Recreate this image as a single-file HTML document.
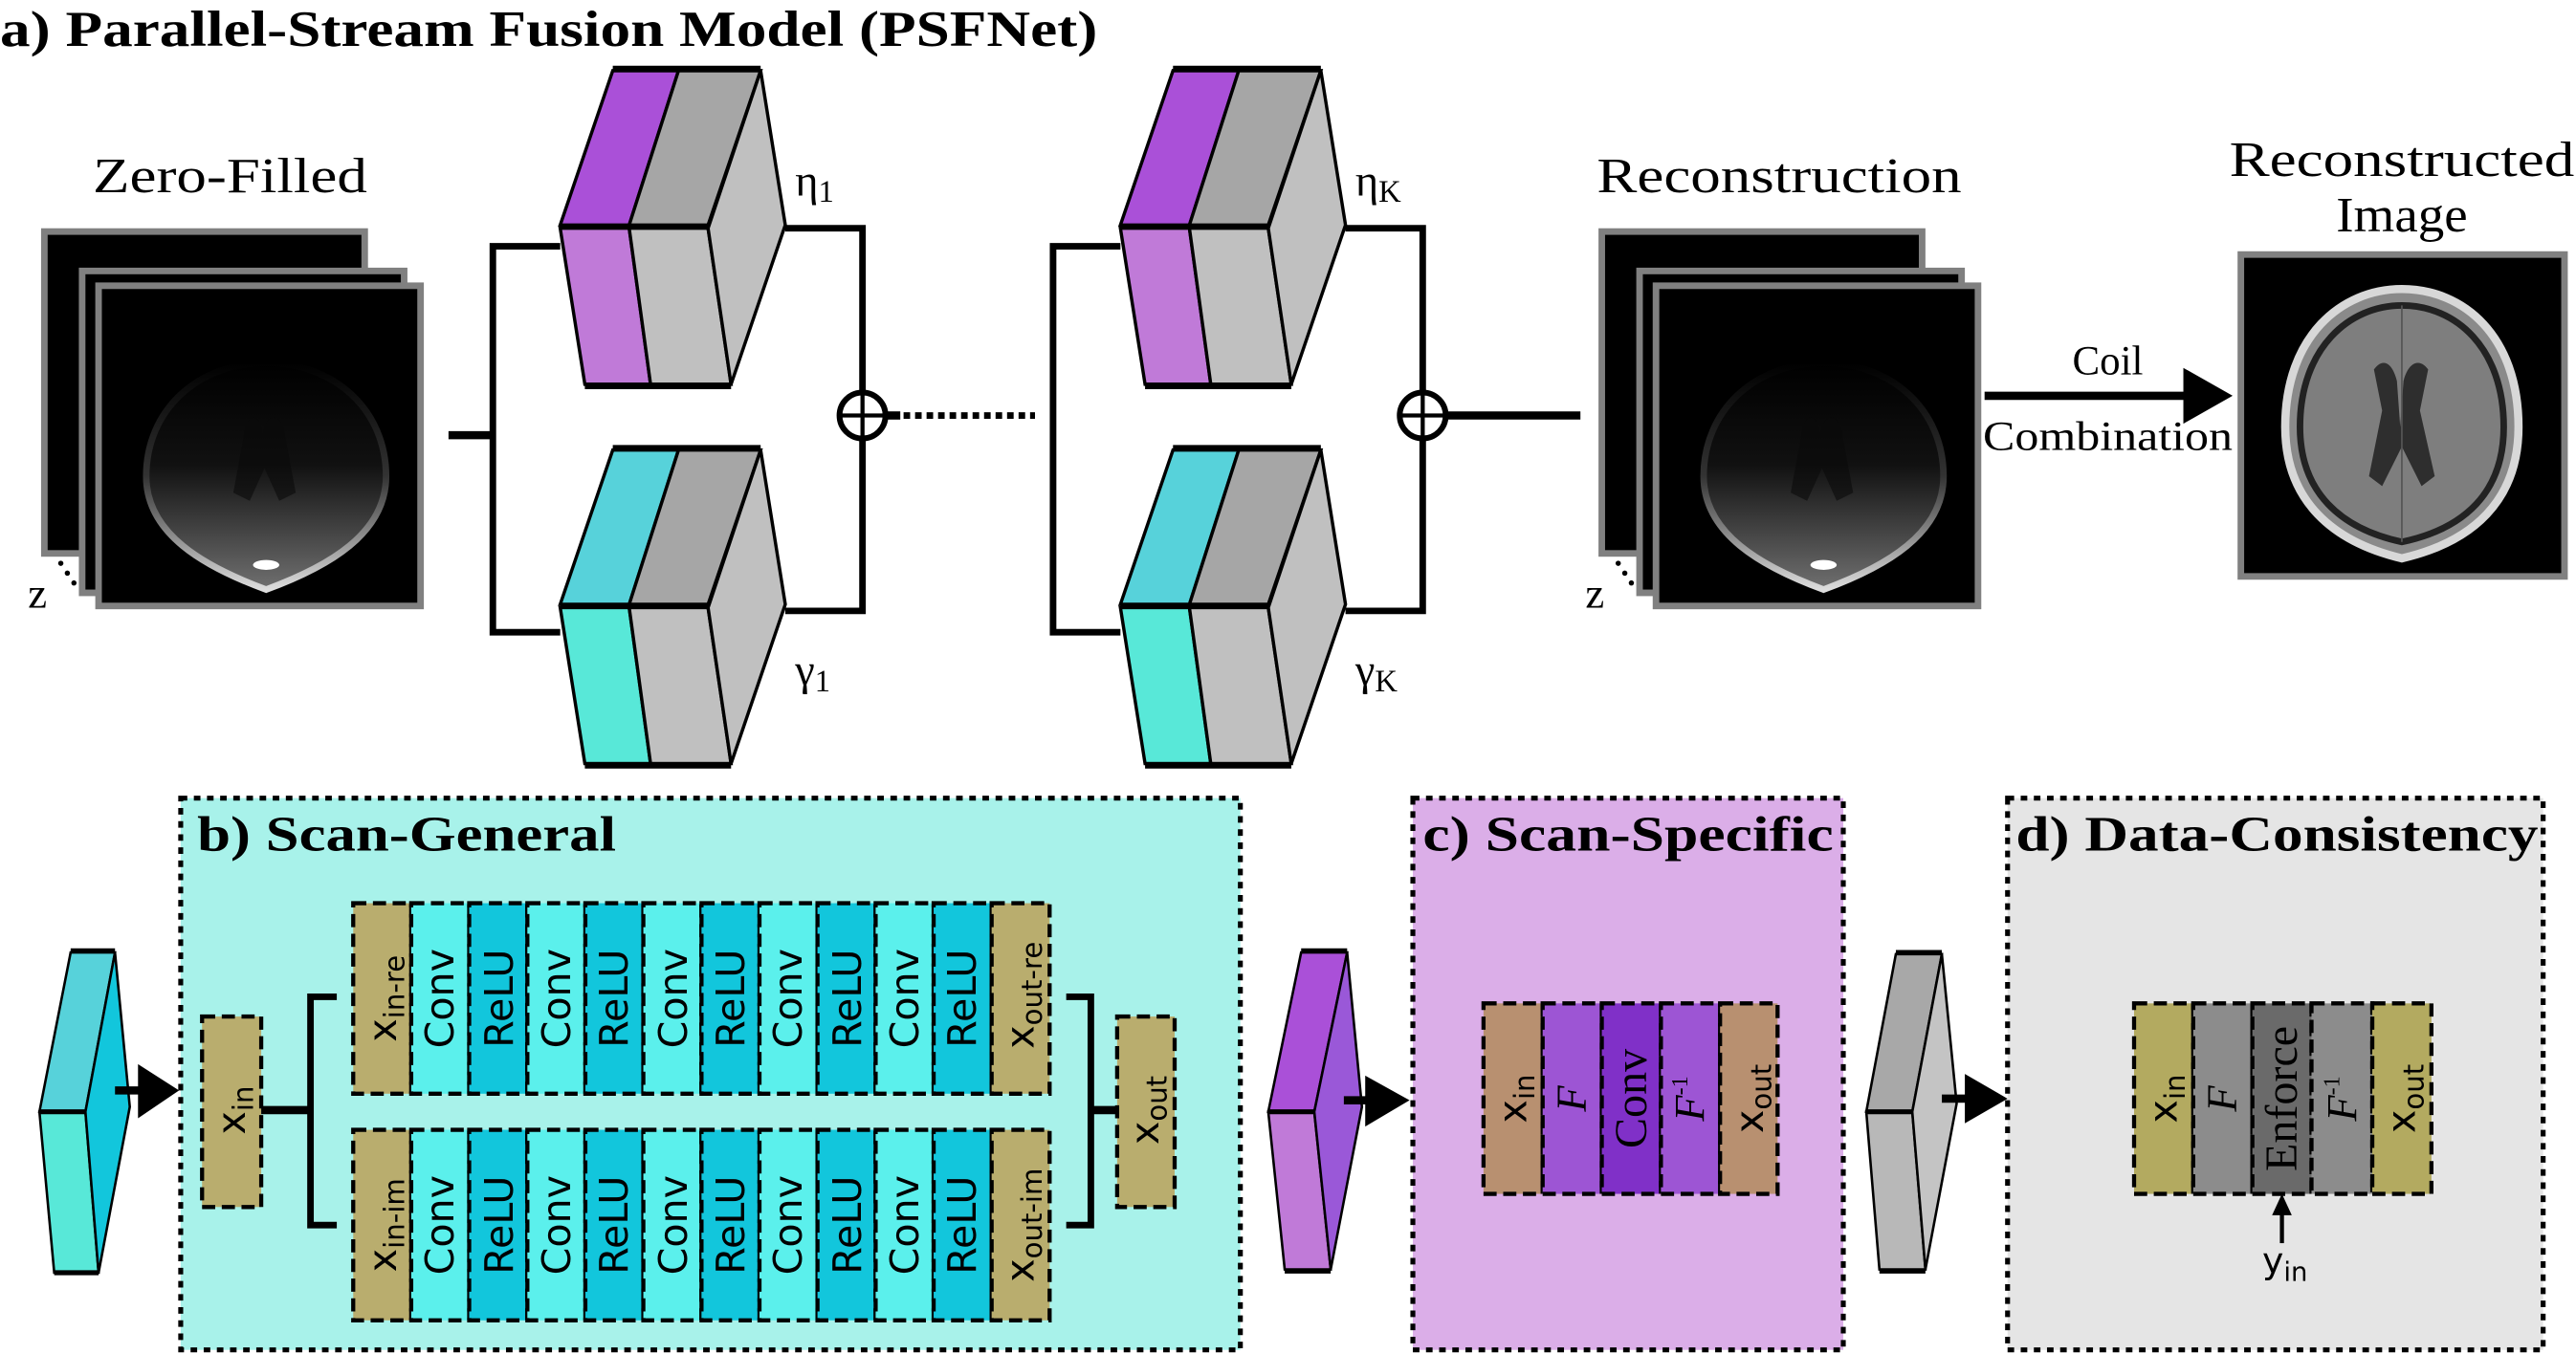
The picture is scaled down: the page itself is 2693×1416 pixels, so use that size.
<!DOCTYPE html>
<html><head><meta charset="utf-8"><style>
html,body{margin:0;padding:0;background:#fff}
svg{display:block}
</style></head><body>
<svg width="2693" height="1416" viewBox="0 0 1568 824.5" preserveAspectRatio="none" xmlns="http://www.w3.org/2000/svg">
<defs>
<linearGradient id="dim" x1="0" y1="0" x2="0" y2="1">
<stop offset="0" stop-color="#000"/><stop offset="0.45" stop-color="#111"/><stop offset="1" stop-color="#707070"/></linearGradient>
<linearGradient id="dimr" x1="0" y1="0" x2="0" y2="1">
<stop offset="0" stop-color="#000"/><stop offset="0.5" stop-color="#333"/><stop offset="1" stop-color="#ddd"/></linearGradient>
<g id="stack">
<rect x="27" y="141" width="195" height="196" fill="#000" stroke="#808080" stroke-width="4"/>
<rect x="50" y="165" width="196" height="196" fill="#000" stroke="#808080" stroke-width="4"/>
<rect x="60" y="174" width="196" height="195" fill="#000" stroke="#808080" stroke-width="4"/>
<path d="M89,290 C89,250 120,221 162,221 C204,221 235,250 235,290 C235,325 200,345 162,359 C124,345 89,325 89,290Z" fill="url(#dim)" stroke="url(#dimr)" stroke-width="4"/>
<path d="M148,268 C150,250 158,250 160,265 C162,250 172,250 174,268 L180,300 L170,305 L161,285 L152,305 L142,300Z" fill="#0a0a0a" opacity="0.6"/>
<ellipse cx="162" cy="344" rx="8" ry="3" fill="#fff"/>
<text x="17" y="370" font-family="'Liberation Serif','Times New Roman',serif" font-size="26">z</text>
<circle cx="37" cy="343" r="1.6"/><circle cx="41" cy="349" r="1.6"/><circle cx="45" cy="355" r="1.6"/>
</g>
<g id="blk">
<polygon points="373,43 413,43 383,137 341,137" fill="#aa50d8" stroke="#000" stroke-width="2"/>
<polygon points="341,139 383,139 396,234 356,234" fill="#c07ad8" stroke="#000" stroke-width="2"/>
<polygon points="413,43 463,43 431,137 383,137" fill="#a6a6a6" stroke="#000" stroke-width="2"/>
<polygon points="383,139 431,139 445,234 396,234" fill="#c0c0c0" stroke="#000" stroke-width="2"/>
<polygon points="463,43 478,137 445,234 431,139" fill="#c0c0c0" stroke="#000" stroke-width="2"/>
<line x1="373" y1="42" x2="463" y2="42" stroke="#000" stroke-width="4"/>
<line x1="356" y1="235" x2="445" y2="235" stroke="#000" stroke-width="4"/>
<line x1="341" y1="138" x2="431" y2="138" stroke="#000" stroke-width="3"/>
</g>
<g id="blk2">
<polygon points="373,274 413,274 383,368 341,368" fill="#57d2da" stroke="#000" stroke-width="2"/>
<polygon points="341,370 383,370 396,465 356,465" fill="#58e8d8" stroke="#000" stroke-width="2"/>
<polygon points="413,274 463,274 431,368 383,368" fill="#a6a6a6" stroke="#000" stroke-width="2"/>
<polygon points="383,370 431,370 445,465 396,465" fill="#c0c0c0" stroke="#000" stroke-width="2"/>
<polygon points="463,274 478,368 445,465 431,370" fill="#c0c0c0" stroke="#000" stroke-width="2"/>
<line x1="373" y1="273" x2="463" y2="273" stroke="#000" stroke-width="4"/>
<line x1="356" y1="466" x2="445" y2="466" stroke="#000" stroke-width="4"/>
<line x1="341" y1="369" x2="431" y2="369" stroke="#000" stroke-width="3"/>
</g>
<g id="conn" fill="none" stroke="#000" stroke-width="4">
<polyline points="341,150 300,150 300,385 341,385"/>
<polyline points="478,139 525,139 525,372 478,372"/>
<circle cx="525" cy="253" r="14" fill="#fff" stroke-width="3.5"/>
<line x1="511" y1="253" x2="539" y2="253" stroke-width="2.5"/>
<line x1="525" y1="239" x2="525" y2="267" stroke-width="2.5"/>
</g>
</defs>

<g font-family="'Liberation Serif','Times New Roman',Times,serif">
<text x="0" y="28" font-size="31" font-weight="bold" textLength="668" lengthAdjust="spacingAndGlyphs">a) Parallel-Stream Fusion Model (PSFNet)</text>
<text x="140" y="117" font-size="30" text-anchor="middle" textLength="167" lengthAdjust="spacingAndGlyphs">Zero-Filled</text>
<text x="484" y="119" font-size="27">η<tspan font-size="19" dy="4">1</tspan></text>
<text x="484" y="417" font-size="27">γ<tspan font-size="19" dy="4">1</tspan></text>
<text x="825" y="119" font-size="27">η<tspan font-size="19" dy="4">K</tspan></text>
<text x="825" y="417" font-size="27">γ<tspan font-size="19" dy="4">K</tspan></text>
<text x="1083" y="117" font-size="30" text-anchor="middle" textLength="222" lengthAdjust="spacingAndGlyphs">Reconstruction</text>
<text x="1283" y="228" font-size="25" text-anchor="middle">Coil</text>
<text x="1283" y="274" font-size="25" text-anchor="middle" textLength="152" lengthAdjust="spacingAndGlyphs">Combination</text>
<text x="1462" y="107" font-size="30" text-anchor="middle" textLength="210" lengthAdjust="spacingAndGlyphs">Reconstructed</text>
<text x="1462" y="141" font-size="30" text-anchor="middle" textLength="80" lengthAdjust="spacingAndGlyphs">Image</text>
</g>

<use href="#stack"/>
<line x1="273" y1="265" x2="300" y2="265" stroke="#000" stroke-width="5"/>
<use href="#conn"/>
<use href="#blk"/><use href="#blk2"/>
<line x1="539" y1="253" x2="548" y2="253" stroke="#000" stroke-width="5"/>
<line x1="550" y1="253" x2="630" y2="253" stroke="#000" stroke-width="4" stroke-dasharray="4 3"/>

<g transform="translate(341,0)"><use href="#conn"/><use href="#blk"/><use href="#blk2"/></g>
<line x1="880" y1="253" x2="962" y2="253" stroke="#000" stroke-width="5"/>

<g transform="translate(948,0)"><use href="#stack"/></g>

<line x1="1208" y1="241" x2="1332" y2="241" stroke="#000" stroke-width="5"/>
<polygon points="1329,224 1359,241 1329,258" fill="#000"/>

<rect x="1364" y="155" width="197" height="196" fill="#000" stroke="#808080" stroke-width="4"/>
<path d="M1391,260 C1391,205 1425,176 1462,176 C1500,176 1533,205 1533,260 C1533,305 1505,330 1462,340 C1420,330 1391,305 1391,260Z" fill="#8a8a8a" stroke="#d8d8d8" stroke-width="5"/>
<path d="M1400,260 C1400,212 1430,186 1462,186 C1495,186 1524,212 1524,260 C1524,300 1500,322 1462,330 C1425,322 1400,300 1400,260Z" fill="#7e7e7e" stroke="#222" stroke-width="4"/>
<path d="M1445,225 C1450,218 1456,220 1459,232 L1461,260 L1463,232 C1466,220 1473,218 1478,225 L1473,250 L1482,290 L1474,296 L1462,272 L1450,296 L1442,290 L1450,250Z" fill="#2e2e2e"/>
<line x1="1462" y1="186" x2="1462" y2="330" stroke="#555" stroke-width="1"/>

<!-- b -->
<rect x="110" y="486" width="645" height="336" fill="#a8f2ea" stroke="#000" stroke-width="3" stroke-dasharray="4 4"/>
<text x="120" y="518" font-family="'Liberation Serif','Times New Roman',Times,serif" font-size="30" font-weight="bold" textLength="255" lengthAdjust="spacingAndGlyphs">b) Scan-General</text>

<g stroke="#000" stroke-width="2.5" stroke-dasharray="8 4">
<rect x="215" y="550" width="35.3" height="116" fill="#b9ad6e"/>
<rect x="250.3" y="550" width="35.3" height="116" fill="#5bf0ec"/>
<rect x="285.6" y="550" width="35.3" height="116" fill="#12c6dc"/>
<rect x="321" y="550" width="35.3" height="116" fill="#5bf0ec"/>
<rect x="356.3" y="550" width="35.3" height="116" fill="#12c6dc"/>
<rect x="391.6" y="550" width="35.3" height="116" fill="#5bf0ec"/>
<rect x="427" y="550" width="35.3" height="116" fill="#12c6dc"/>
<rect x="462.3" y="550" width="35.3" height="116" fill="#5bf0ec"/>
<rect x="497.6" y="550" width="35.3" height="116" fill="#12c6dc"/>
<rect x="533" y="550" width="35.3" height="116" fill="#5bf0ec"/>
<rect x="568.3" y="550" width="35.3" height="116" fill="#12c6dc"/>
<rect x="603.6" y="550" width="35.3" height="116" fill="#b9ad6e"/>
<rect x="215" y="688" width="35.3" height="116" fill="#b9ad6e"/>
<rect x="250.3" y="688" width="35.3" height="116" fill="#5bf0ec"/>
<rect x="285.6" y="688" width="35.3" height="116" fill="#12c6dc"/>
<rect x="321" y="688" width="35.3" height="116" fill="#5bf0ec"/>
<rect x="356.3" y="688" width="35.3" height="116" fill="#12c6dc"/>
<rect x="391.6" y="688" width="35.3" height="116" fill="#5bf0ec"/>
<rect x="427" y="688" width="35.3" height="116" fill="#12c6dc"/>
<rect x="462.3" y="688" width="35.3" height="116" fill="#5bf0ec"/>
<rect x="497.6" y="688" width="35.3" height="116" fill="#12c6dc"/>
<rect x="533" y="688" width="35.3" height="116" fill="#5bf0ec"/>
<rect x="568.3" y="688" width="35.3" height="116" fill="#12c6dc"/>
<rect x="603.6" y="688" width="35.3" height="116" fill="#b9ad6e"/>
<rect x="123" y="619" width="36" height="116" fill="#b9ad6e"/>
<rect x="680" y="619" width="35" height="116" fill="#b9ad6e"/>
</g>
<g font-family="'DejaVu Sans','Liberation Sans',sans-serif" font-size="24" text-anchor="middle" fill="#000">
<text transform="translate(241,608) rotate(-90)">x<tspan font-size="17" dy="5">in-re</tspan></text>
<text transform="translate(276,608) rotate(-90)">Conv</text>
<text transform="translate(312,608) rotate(-90)">ReLU</text>
<text transform="translate(347,608) rotate(-90)">Conv</text>
<text transform="translate(382,608) rotate(-90)">ReLU</text>
<text transform="translate(418,608) rotate(-90)">Conv</text>
<text transform="translate(453,608) rotate(-90)">ReLU</text>
<text transform="translate(488,608) rotate(-90)">Conv</text>
<text transform="translate(524,608) rotate(-90)">ReLU</text>
<text transform="translate(559,608) rotate(-90)">Conv</text>
<text transform="translate(594,608) rotate(-90)">ReLU</text>
<text transform="translate(629,606) rotate(-90)">x<tspan font-size="17" dy="5">out-re</tspan></text>
<text transform="translate(241,746) rotate(-90)">x<tspan font-size="17" dy="5">in-im</tspan></text>
<text transform="translate(276,746) rotate(-90)">Conv</text>
<text transform="translate(312,746) rotate(-90)">ReLU</text>
<text transform="translate(347,746) rotate(-90)">Conv</text>
<text transform="translate(382,746) rotate(-90)">ReLU</text>
<text transform="translate(418,746) rotate(-90)">Conv</text>
<text transform="translate(453,746) rotate(-90)">ReLU</text>
<text transform="translate(488,746) rotate(-90)">Conv</text>
<text transform="translate(524,746) rotate(-90)">ReLU</text>
<text transform="translate(559,746) rotate(-90)">Conv</text>
<text transform="translate(594,746) rotate(-90)">ReLU</text>
<text transform="translate(629,746) rotate(-90)">x<tspan font-size="17" dy="5">out-im</tspan></text>
<text transform="translate(149,676) rotate(-90)">x<tspan font-size="17" dy="5">in</tspan></text>
<text transform="translate(705,676) rotate(-90)">x<tspan font-size="17" dy="5">out</tspan></text>
</g>
<g fill="none" stroke="#000" stroke-width="4">
<polyline points="205,607 189,607 189,746 205,746"/>
<line x1="159" y1="676" x2="189" y2="676" stroke-width="5"/>
<polyline points="649,607 664,607 664,746 649,746"/>
<line x1="664" y1="676" x2="680" y2="676" stroke-width="5"/>
</g>
<polygon points="43,580 70,580 52,677 24,677" fill="#57d2da" stroke="#000" stroke-width="1.5"/>
<polygon points="24,677 52,677 60,775 33,775" fill="#58e8d8" stroke="#000" stroke-width="1.5"/>
<polygon points="70,580 79,674 60,775 52,677" fill="#12c6dc" stroke="#000" stroke-width="1.5"/>
<line x1="43" y1="579" x2="70" y2="579" stroke="#000" stroke-width="3"/>
<line x1="33" y1="775" x2="60" y2="775" stroke="#000" stroke-width="3"/>
<line x1="24" y1="677" x2="52" y2="677" stroke="#000" stroke-width="3"/>
<line x1="70" y1="664" x2="86" y2="664" stroke="#000" stroke-width="5"/>
<polygon points="84,648 109,664 84,681" fill="#000"/>

<!-- c -->
<rect x="860" y="486" width="262" height="336" fill="#dbaee8" stroke="#000" stroke-width="3" stroke-dasharray="4 4"/>
<text x="866" y="518" font-family="'Liberation Serif','Times New Roman',Times,serif" font-size="30" font-weight="bold" textLength="250" lengthAdjust="spacingAndGlyphs">c) Scan-Specific</text>
<g stroke="#000" stroke-width="2.5" stroke-dasharray="8 4">
<rect x="903" y="611" width="36" height="116" fill="#b89070"/>
<rect x="939" y="611" width="36" height="116" fill="#9d55d4"/>
<rect x="975" y="611" width="36" height="116" fill="#8030c8"/>
<rect x="1011" y="611" width="36" height="116" fill="#9d55d4"/>
<rect x="1047" y="611" width="35" height="116" fill="#b89070"/>
</g>
<g font-family="'Liberation Serif','Times New Roman',Times,serif" text-anchor="middle">
<text transform="translate(965,669) rotate(-90)" font-size="26" font-style="italic">F</text>
<text transform="translate(1002,669) rotate(-90)" font-size="28">Conv</text>
<text transform="translate(1037,669) rotate(-90)" font-size="26" font-style="italic">F<tspan font-size="14" font-style="normal" dy="-10">-1</tspan></text>
<text transform="translate(1361,669) rotate(-90)" font-size="26" font-style="italic">F</text>
<text transform="translate(1398,669) rotate(-90)" font-size="28">Enforce</text>
<text transform="translate(1434,669) rotate(-90)" font-size="26" font-style="italic">F<tspan font-size="14" font-style="normal" dy="-10">-1</tspan></text>
</g>
<g font-family="'DejaVu Sans','Liberation Sans',sans-serif" font-size="24" text-anchor="middle">
<text transform="translate(929,669) rotate(-90)">x<tspan font-size="17" dy="5">in</tspan></text>
<text transform="translate(1073,669) rotate(-90)">x<tspan font-size="17" dy="5">out</tspan></text>
<text transform="translate(1325,669) rotate(-90)">x<tspan font-size="17" dy="5">in</tspan></text>
<text transform="translate(1470,669) rotate(-90)">x<tspan font-size="17" dy="5">out</tspan></text>
</g>
<polygon points="792,580 820,580 800,677 772,677" fill="#aa50d8" stroke="#000" stroke-width="1.5"/>
<polygon points="772,677 800,677 810,773 782,773" fill="#c07ad8" stroke="#000" stroke-width="1.5"/>
<polygon points="820,580 829,674 810,773 800,677" fill="#9a58d8" stroke="#000" stroke-width="1.5"/>
<line x1="792" y1="579" x2="820" y2="579" stroke="#000" stroke-width="3"/>
<line x1="782" y1="774" x2="810" y2="774" stroke="#000" stroke-width="3"/>
<line x1="772" y1="677" x2="800" y2="677" stroke="#000" stroke-width="3"/>
<line x1="818" y1="670" x2="833" y2="670" stroke="#000" stroke-width="5"/>
<polygon points="831,655 858,670 831,686" fill="#000"/>

<!-- d -->
<rect x="1222" y="486" width="326" height="336" fill="#e5e5e5" stroke="#000" stroke-width="3" stroke-dasharray="4 4"/>
<text x="1227" y="518" font-family="'Liberation Serif','Times New Roman',Times,serif" font-size="30" font-weight="bold" textLength="318" lengthAdjust="spacingAndGlyphs">d) Data-Consistency</text>
<g stroke="#000" stroke-width="2.5" stroke-dasharray="8 4">
<rect x="1299" y="611" width="36" height="116" fill="#b3aa60"/>
<rect x="1335" y="611" width="36" height="116" fill="#8c8c8c"/>
<rect x="1371" y="611" width="36" height="116" fill="#6a6a6a"/>
<rect x="1407" y="611" width="37" height="116" fill="#8c8c8c"/>
<rect x="1444" y="611" width="36" height="116" fill="#b3aa60"/>
</g>
<g font-family="'Liberation Serif','Times New Roman',Times,serif" text-anchor="middle">
<text transform="translate(1361,669) rotate(-90)" font-size="26" font-style="italic">F</text>
<text transform="translate(1398,669) rotate(-90)" font-size="28">Enforce</text>
<text transform="translate(1434,669) rotate(-90)" font-size="26" font-style="italic">F<tspan font-size="14" font-style="normal" dy="-10">-1</tspan></text>
</g>
<g font-family="'DejaVu Sans','Liberation Sans',sans-serif" font-size="24" text-anchor="middle">
<text transform="translate(1325,669) rotate(-90)">x<tspan font-size="17" dy="5">in</tspan></text>
<text transform="translate(1470,669) rotate(-90)">x<tspan font-size="17" dy="5">out</tspan></text>
</g>
<line x1="1389" y1="757" x2="1389" y2="738" stroke="#000" stroke-width="2.5"/>
<polygon points="1383,740 1389,727 1395,740" fill="#000"/>
<text x="1377" y="775" font-family="'DejaVu Sans','Liberation Sans',sans-serif" font-size="22">y<tspan font-size="16" dy="5">in</tspan></text>
<polygon points="1154,581 1182,581 1164,677 1136,677" fill="#a8a8a8" stroke="#000" stroke-width="1.5"/>
<polygon points="1136,677 1164,677 1172,773 1144,773" fill="#b8b8b8" stroke="#000" stroke-width="1.5"/>
<polygon points="1182,581 1191,672 1172,773 1164,677" fill="#c4c4c4" stroke="#000" stroke-width="1.5"/>
<line x1="1154" y1="580" x2="1182" y2="580" stroke="#000" stroke-width="3"/>
<line x1="1144" y1="774" x2="1172" y2="774" stroke="#000" stroke-width="3"/>
<line x1="1136" y1="677" x2="1164" y2="677" stroke="#000" stroke-width="3"/>
<line x1="1182" y1="669" x2="1198" y2="669" stroke="#000" stroke-width="5"/>
<polygon points="1196,654 1222,669 1196,684" fill="#000"/>
</svg>
</body></html>
